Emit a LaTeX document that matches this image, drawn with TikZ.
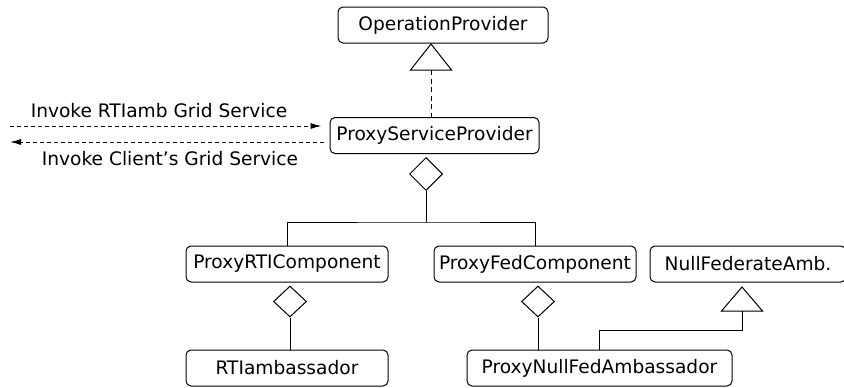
\documentclass[tikz,border=0pt]{standalone}
\usepackage{fontspec}
\setmainfont{DejaVu Sans}
\usetikzlibrary{arrows.meta,shapes.geometric}

\tikzset{
  cls/.style={draw, rounded corners=5pt, minimum height=36pt, inner sep=0pt,
              font=\fontsize{18.6}{22}\selectfont, line width=1pt},
  agg/.style={draw, diamond, aspect=1, inner sep=0pt, minimum width=33pt,
              minimum height=33pt, line width=1pt, fill=white},
  wire/.style={line width=1pt},
  dep/.style={line width=1pt, dash pattern=on 5pt off 3.5pt},
  msg/.style={line width=1pt, dash pattern=on 4pt off 3pt,
              -{Latex[length=11pt,width=6pt]}},
  lbl/.style={font=\fontsize{18.6}{22}\selectfont, inner sep=0pt}
}

\begin{document}
\begin{tikzpicture}[x=1pt,y=-1pt]
\useasboundingbox (0,0) rectangle (844,388);
\clip (0,0) rectangle (844,388);

% classes
\node[cls, minimum width=210pt] (op)   at (443,25)    {OperationProvider};
\node[cls, minimum width=209pt] (psp)  at (434.5,135.5) {ProxyServiceProvider};
\node[cls, minimum width=202pt] (prc)  at (287,264)   {ProxyRTIComponent};
\node[cls, minimum width=202pt] (pfc)  at (535,264)   {ProxyFedComponent};
\node[cls, minimum width=196pt] (nfa)  at (748,264)   {NullFederateAmb.};
\node[cls, minimum width=202pt] (rti)  at (287,368)   {RTIambassador};
\node[cls, minimum width=265pt] (pnfa) at (599.5,368) {ProxyNullFedAmbassador};

% generalisation: ProxyServiceProvider -> OperationProvider
\coordinate (t1) at (431,70);
\draw[wire, fill=white] (t1) -- ++(-20.5,0) -- (431,44) -- ([xshift=20.5pt]t1) -- cycle;
\draw[dep] (t1) -- (t1 |- psp.north);

% aggregation: ProxyServiceProvider <>-- components
\node[agg] (d1) at (426,174) {};
\coordinate (bar) at (426,222);
\draw[wire] (d1.south) -- (bar);
\draw[wire] (prc.north) |- (bar) -| (pfc.north);

% aggregation: ProxyRTIComponent <>-- RTIambassador
\node[agg, minimum height=31pt, minimum width=33pt] (d2) at (290,301.5) {};
\draw[wire] (d2.south) -- (d2.south |- rti.north);

% aggregation: ProxyFedComponent <>-- ProxyNullFedAmbassador
\node[agg, minimum height=31pt, minimum width=33pt] (d3) at (538,301.5) {};
\draw[wire] (d3.south) -- (d3.south |- pnfa.north);

% generalisation: ProxyNullFedAmbassador -> NullFederateAmb.
\coordinate (t2) at (742,311);
\draw[wire, fill=white] (t2) -- ++(-20.5,0) -- (742,287) -- ([xshift=20.5pt]t2) -- cycle;
\coordinate (pn) at (599,350);
\draw[wire] (pn) -- (599,330) -| (t2);

% grid-service invocations
\coordinate (inL) at (10,126);
\coordinate (outL) at (10,142);
\draw[msg] (inL) -- ([xshift=-8pt]inL -| psp.west);
\draw[msg] ([xshift=-6pt]outL -| psp.west) -- (outL);
\node[lbl] (l1) at (159,111) {Invoke RTIamb Grid Service};
\node[lbl] (l2) at (170,159) {Invoke Client’s Grid Service};
\end{tikzpicture}
\end{document}
